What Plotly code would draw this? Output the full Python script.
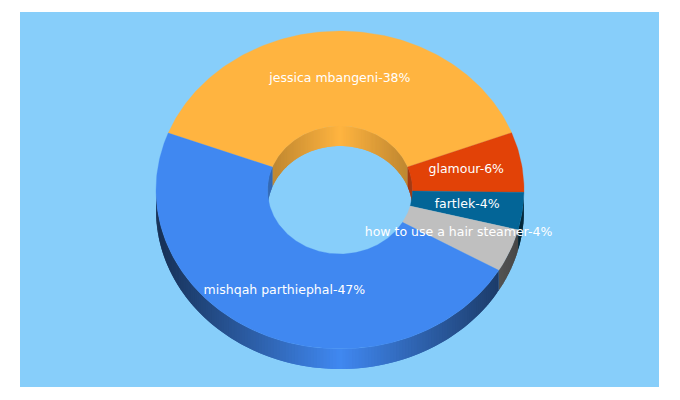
import math
import numpy as np
import plotly.graph_objects as go

# Data
names = ["jessica mbangeni", "glamour", "fartlek", "how to use a hair steamer", "mishqah parthiephal"]
shares = [38.3, 6.1, 3.8, 4.4, 47.4]
shown = ["38%", "6%", "4%", "4%", "47%"]
colors = ["#FFB440", "#E24207", "#036597", "#BFBFBF", "#4088F1"]

# Layout / style
BG = "#87CEFA"
CX, CY = 340.0, 190.0
RX, RY = 184.0, 159.0
IRX, IRY = 72.5, 64.0
DEPTH = 20.0
START = 159.0


def rgb(hex_color, f=1.0):
    r, g, b = (int(hex_color[i:i + 2], 16) for i in (1, 3, 5))
    return f"rgb({round(r * f)},{round(g * f)},{round(b * f)})"


def ell(rx, ry, deg, dy=0.0):
    t = np.radians(deg)
    return CX + rx * np.cos(t), CY - ry * np.sin(t) + dy


def poly(xs, ys, color, lw=0.0):
    return go.Scatter(x=list(xs) + [xs[0]], y=list(ys) + [ys[0]], mode="lines", fill="toself",
                      fillcolor=color, line=dict(color=color, width=lw),
                      hoverinfo="skip", showlegend=False)


def arc_range(a, b, lo, hi):
    """Overlap of the sweep a>b (degrees, decreasing) with [lo, hi]."""
    top, bot = min(a, hi), max(b, lo)
    return (top, bot) if top > bot else None


def wall(rx, ry, a, b, color, shade):
    out = []
    n = max(1, int(math.ceil((a - b) / 1.0)))
    edges = np.linspace(a, b, n + 1)
    for i, (p, q) in enumerate(zip(edges[:-1], edges[1:])):
        # each strip runs a little under the next one, so no seam shows
        q2 = edges[i + 2] if i + 2 <= n else q
        t = np.linspace(p, q2, 4)
        xs, ys = ell(rx, ry, t)
        mid = (p + q) / 2
        out.append(poly(np.r_[xs, xs[::-1]], np.r_[ys, ys[::-1] + DEPTH], rgb(color, shade(mid))))
    return out


def outer_shade(d):
    return 1 - 0.65 * abs(math.cos(math.radians(d)))


def inner_shade(d):
    return 1 - 0.27 * abs(math.cos(math.radians(d)))


total = sum(shares)
sweeps = []
a = START
for s in shares:
    b = a - s / total * 360.0
    sweeps.append((a, b))
    a = b

traces = []
for (a, b), c in zip(sweeps, colors):
    for k in (0, 360):  # front half of the outer wall
        r = arc_range(a + k, b + k, -180, 0)
        if r:
            traces += wall(RX, RY, r[0], r[1], c, outer_shade)
for (a, b), c in zip(sweeps, colors):
    for k in (0, 360):  # back half of the hole wall
        r = arc_range(a + k, b + k, 0, 180)
        if r:
            traces += wall(IRX, IRY, r[0], r[1], c, inner_shade)
for (a, b), c in zip(sweeps, colors):
    t = np.linspace(a, b, max(3, int((a - b) / 1.0)))
    xo, yo = ell(RX, RY, t)
    xi, yi = ell(IRX, IRY, t[::-1])
    traces.append(poly(np.r_[xo, xi], np.r_[yo, yi], rgb(c), 0.3))

lx, ly, lt = [], [], []
for (a, b), n, p in zip(sweeps, names, shown):
    x, y = ell((RX + IRX) / 2, (RY + IRY) / 2, (a + b) / 2)
    lx.append(float(x))
    ly.append(float(y))
    lt.append(f"{n}-{p}")
traces.append(go.Scatter(x=lx, y=ly, text=lt, mode="text", textposition="middle center",
                         textfont=dict(family="DejaVu Sans", size=12.5, color="white"),
                         hoverinfo="skip", showlegend=False))

fig = go.Figure(traces)
fig.update_layout(width=680, height=400, paper_bgcolor="white", plot_bgcolor=BG,
                  margin=dict(l=20, r=21, t=12, b=13), showlegend=False)
fig.update_xaxes(range=[20, 659], visible=False, fixedrange=True)
fig.update_yaxes(range=[387, 12], visible=False, fixedrange=True)
fig.write_html("out.html", config={"displayModeBar": False},
               post_script="document.body.style.margin='0';document.body.style.overflow='hidden';")
